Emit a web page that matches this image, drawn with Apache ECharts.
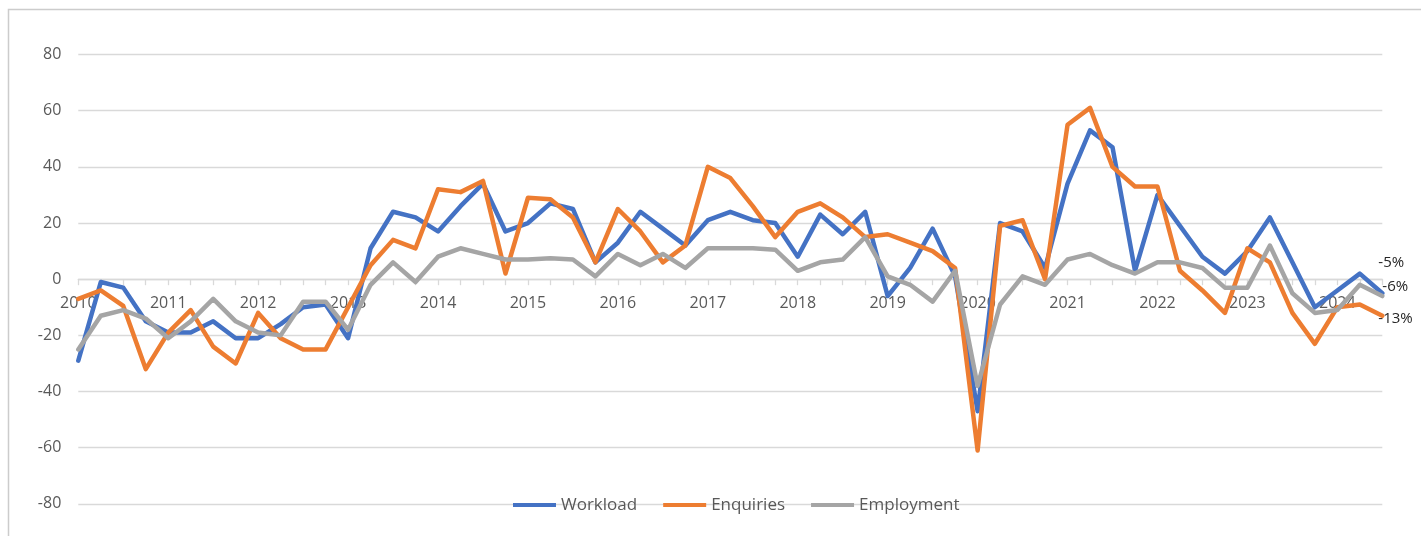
<!DOCTYPE html>
<html>
<head>
<meta charset="utf-8">
<title>Workload, Enquiries and Employment balances</title>
<script src="https://cdn.jsdelivr.net/npm/echarts@6/dist/echarts.min.js"></script>
<style>
  html, body { margin: 0; padding: 0; background: #ffffff; }
  #chart { width: 1421px; height: 536px; }
</style>
</head>
<body>
<div id="chart"></div>
<script>
// Quarterly net balances, Q1 2010 to Q3 2024
const years = ['2010', '2011', '2012', '2013', '2014', '2015', '2016', '2017',
               '2018', '2019', '2020', '2021', '2022', '2023', '2024'];
const quarters = ['Q1', 'Q2', 'Q3', 'Q4'];

const workload = [
  -29, -1, -3, -15, -19, -19, -15, -21, -21, -16,
  -10, -9, -21, 11, 24, 22, 17, 26, 34, 17,
  20, 27, 25, 6, 13, 24, 18, 12, 21, 24,
  21, 20, 8, 23, 16, 24, -6, 4, 18, 1,
  -47, 20, 17, 4, 34, 53, 47, 3, 30, 19,
  8, 2, 10, 22, 6, -10, -4, 2, -5
];
const enquiries = [
  -7, -4, -9.5, -32, -19, -11, -24, -30, -12, -21,
  -25, -25, -10, 5, 14, 11, 32, 31, 35, 2,
  29, 28.5, 22, 6, 25, 17, 6, 12, 40, 36,
  26, 15, 24, 27, 22, 15, 16, 13, 10, 4,
  -61, 19, 21, 0, 55, 61, 40, 33, 33, 3,
  -4, -12, 11, 6, -12, -23, -10, -9, -13
];
const employment = [
  -25, -13, -11, -14, -21, -15, -7, -15, -19, -20,
  -8, -8, -18, -2, 6, -1, 8, 11, 9, 7,
  7, 7.5, 7, 1, 9, 5, 9, 4, 11, 11,
  11, 10.5, 3, 6, 7, 15, 1, -2, -8, 3,
  -38, -9, 1, -2, 7, 9, 5, 2, 6, 6,
  4, -3, -3, 12, -5, -12, -11, -2, -6
];

// One category per quarter, trimmed to the length of the series
const categories = [];
years.forEach(y => quarters.forEach(q => categories.push(q + ' ' + y)));
categories.length = workload.length;

const FONT = '"Open Sans", "DejaVu Sans", sans-serif';
const GRID_COLOR = '#d9d9d9';
const TEXT_COLOR = '#595959';

const GRID_TOP = 54.5;
const GRID_BOTTOM = 32.1;
const CHART_H = 536;
// The category axis sits on the zero line, halfway down the symmetric value range
const ZERO_SHIFT = -(CHART_H - GRID_TOP - GRID_BOTTOM) / 2;

function lineSeries(name, values, color, labelOffset) {
  return {
    name: name,
    type: 'line',
    data: values,
    showSymbol: false,
    symbol: 'none',
    smooth: false,
    lineStyle: { color: color, width: 4.5, cap: 'round', join: 'round' },
    itemStyle: { color: color },
    emphasis: { disabled: true },
    endLabel: {
      show: true,
      formatter: p => p.value + '%',
      distance: 0,
      offset: labelOffset,
      color: '#262626',
      fontFamily: FONT,
      fontSize: 15
    },
    animation: false
  };
}

const chart = echarts.init(document.getElementById('chart'), null, { renderer: 'canvas' });

chart.setOption({
  backgroundColor: '#ffffff',
  animation: false,
  graphic: [{
    type: 'rect',
    shape: { x: 8.5, y: 9.5, width: 1500, height: 600 },
    style: { fill: 'none', stroke: '#cccccc', lineWidth: 1.5 },
    silent: true,
    z: -10
  }],
  grid: { left: 78.3, right: 38.7, top: GRID_TOP, bottom: GRID_BOTTOM, containLabel: false },
  legend: {
    left: 513,
    top: 495,
    padding: 0,
    icon: 'rect',
    itemWidth: 43,
    itemHeight: 4,
    itemGap: 26,
    textStyle: { fontFamily: FONT, fontSize: 17, color: TEXT_COLOR, lineHeight: 20 },
    data: ['Workload', 'Enquiries', 'Employment']
  },
  xAxis: {
    type: 'category',
    data: categories,
    boundaryGap: false,
    position: 'bottom',
    offset: ZERO_SHIFT,
    axisLine: { show: true, onZero: false, lineStyle: { color: GRID_COLOR, width: 1.3 } },
    axisTick: { show: true, interval: 0, length: 6, lineStyle: { color: GRID_COLOR, width: 1.3 } },
    axisLabel: {
      interval: 3,
      margin: 16,
      fontFamily: FONT,
      fontSize: 16,
      color: TEXT_COLOR,
      formatter: v => v.split(' ')[1]
    },
    splitLine: { show: false }
  },
  yAxis: {
    type: 'value',
    min: -80,
    max: 80,
    interval: 20,
    axisLine: { show: false },
    axisTick: { show: false },
    axisLabel: { margin: 17, fontFamily: FONT, fontSize: 16, color: TEXT_COLOR },
    splitLine: { show: true, lineStyle: { color: GRID_COLOR, width: 1.3 } }
  },
  series: [
    lineSeries('Workload', workload, '#4472C4', [-4, -31]),
    lineSeries('Enquiries', enquiries, '#ED7D31', [-4, 3]),
    lineSeries('Employment', employment, '#A5A5A5', [0, -9])
  ]
});
</script>
</body>
</html>
